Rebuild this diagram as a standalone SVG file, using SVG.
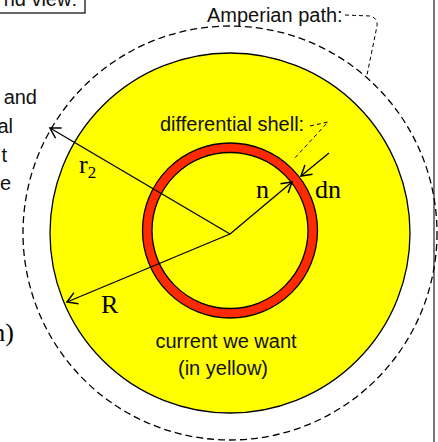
<svg xmlns="http://www.w3.org/2000/svg" width="438" height="442" viewBox="0 0 438 442">
<style>
.sans{font-family:"Liberation Sans",Arial,sans-serif;font-size:20px;fill:#111}
.serif{font-family:"Liberation Serif","Times New Roman",serif;font-size:26px;fill:#000}
.ln{stroke:#000;stroke-width:1.3;fill:none}
.dash{stroke:#000;stroke-width:1;fill:none;stroke-dasharray:4,3}
</style>
<defs>
<marker id="arr" markerWidth="14" markerHeight="14" refX="11" refY="7" orient="auto" markerUnits="userSpaceOnUse">
<polyline points="1,1 11,7 1,13" fill="none" stroke="#000" stroke-width="1.5"/>
</marker>
</defs>
<rect width="438" height="442" fill="#fff"/>
<line x1="434" y1="0" x2="434" y2="442" stroke="#777" stroke-width="2"/>
<g id="box">
<rect x="-2" y="-12" width="87" height="25" fill="#fff" stroke="#000" stroke-width="1.2"/>
<text class="sans" x="77" y="6" text-anchor="end">nd view:</text>
</g>
<g id="left-text">
<text class="sans" x="37" y="104" text-anchor="end">and</text>
<text class="sans" x="13" y="133" text-anchor="end">al</text>
<text class="sans" x="7" y="162" text-anchor="end">t</text>
<text class="sans" x="11" y="190" text-anchor="end">e</text>
<text class="serif" x="14" y="341" text-anchor="end" font-size="28">n)</text>
</g>
<g id="amperian">
<circle cx="230" cy="233" r="207" fill="none" stroke="#000" stroke-width="1.3" stroke-dasharray="7,4"/>
</g>
<g id="yellow">
<circle cx="230" cy="233" r="180" fill="#FFFF00" stroke="#000" stroke-width="1.3"/>
</g>
<g id="shell">
<circle cx="230" cy="230.5" r="87.5" fill="#FF2A00" stroke="#000" stroke-width="1.3"/>
<circle cx="230" cy="230.5" r="78" fill="#FFFF00" stroke="#000" stroke-width="1.3"/>
</g>
<g id="connectors">
<line class="ln" x1="230" y1="234" x2="50" y2="128" marker-end="url(#arr)"/>
<line class="ln" x1="230" y1="234" x2="67" y2="302" marker-end="url(#arr)"/>
<line class="ln" x1="230" y1="234" x2="292" y2="182" marker-end="url(#arr)"/>
<line class="ln" x1="329" y1="153" x2="301" y2="176" marker-end="url(#arr)"/>
<path class="dash" d="M345,15 L370,16 Q378,18 377,26 L367,75"/>
<path class="dash" stroke-dasharray="3,3" d="M310,126 L328,122 L293,160"/>
</g>
<g id="labels">
<text class="sans" x="207" y="22">Amperian path:</text>
<text class="sans" x="160" y="131">differential shell:</text>
<text class="sans" x="226" y="348" text-anchor="middle">current we want</text>
<text class="sans" x="223" y="375" text-anchor="middle">(in yellow)</text>
<text class="serif" x="79" y="173">r<tspan font-size="17" dy="5">2</tspan></text>
<text class="serif" x="101" y="313">R</text>
<text class="serif" x="256" y="198">n</text>
<text class="serif" x="315" y="198">dn</text>
</g>
</svg>
